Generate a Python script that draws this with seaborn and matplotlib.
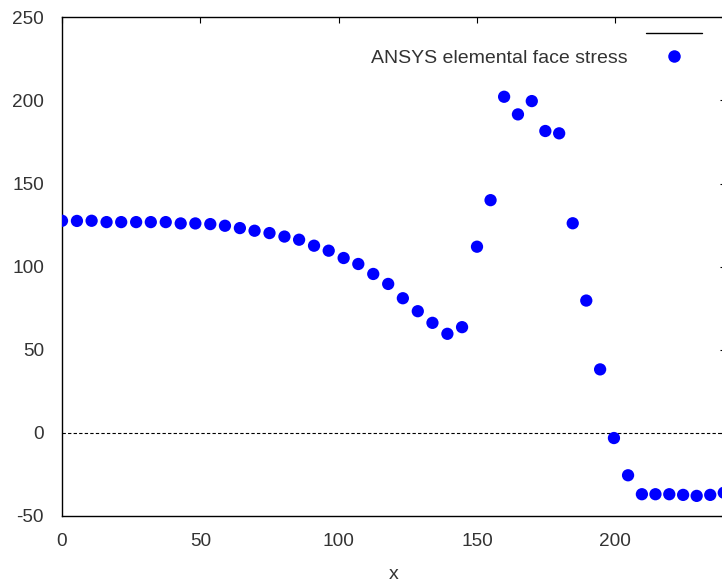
import numpy as np
import pandas as pd
import matplotlib
matplotlib.use("Agg")
import matplotlib.pyplot as plt
import seaborn as sns
from matplotlib.lines import Line2D

# ---- data ----
x_pos = [0.0, 5.4, 10.7, 16.1, 21.4, 26.8, 32.1, 37.5, 42.9, 48.2,
         53.6, 58.9, 64.3, 69.6, 75.0, 80.4, 85.7, 91.1, 96.4, 101.8,
         107.1, 112.5, 117.9, 123.2, 128.6, 133.9, 139.3, 144.6, 150.0,
         154.9, 159.8, 164.8, 169.8, 174.7, 179.7, 184.6, 189.5, 194.5,
         199.5, 204.6, 209.6, 214.5, 219.5, 224.5, 229.4, 234.3, 239.2]
stress = [127.6, 127.5, 127.6, 126.8, 126.8, 126.8, 126.8, 126.8, 126.0, 126.0,
          125.6, 124.6, 123.2, 121.6, 120.2, 118.1, 116.2, 112.6, 109.6, 105.2,
          101.6, 95.6, 89.6, 81.0, 73.2, 66.2, 59.6, 63.6, 112.0,
          140.0, 202.2, 191.6, 199.6, 181.6, 180.2, 126.1, 79.6, 38.2,
          -3.1, -25.5, -36.9, -36.9, -36.9, -37.3, -37.9, -37.3, -36.0]
x_ticks = [0, 50, 100, 150, 200]
y_ticks = [-50, 0, 50, 100, 150, 200, 250]
series_label = "ANSYS elemental face stress"
x_label = "x"

df = pd.DataFrame({"x": x_pos, "stress": stress})

sns.set_style("white")
plt.rcParams["font.family"] = ["Liberation Sans", "DejaVu Sans"]
plt.rcParams["axes.unicode_minus"] = False

W, H = 722, 587
fig = plt.figure(figsize=(W / 100, H / 100), dpi=100)
left, right, top, bottom = 62, 726, 17.3, 516
ax = fig.add_axes([left / W, 1 - bottom / H, (right - left) / W, (bottom - top) / H])

ax.axhline(0, color="black", lw=0.8, ls=(0, (3, 2)), zorder=1)
sns.scatterplot(data=df, x="x", y="stress", ax=ax, color="#0000ff",
                s=78, marker="o", edgecolor="none", zorder=3, legend=False,
                clip_on=True)

ax.set_xlim(0, 240)
ax.set_ylim(-50, 250)
ax.set_xticks(x_ticks)
ax.set_yticks(y_ticks)
ax.set_xlabel(x_label, fontsize=14, color="#333333", labelpad=11)
ax.set_ylabel("")

for s in ax.spines.values():
    s.set_color("black")
    s.set_linewidth(1.0)
    s.set_visible(True)

ax.tick_params(axis="both", which="both", direction="in", length=4.3, width=0.8,
               color="black", top=True, right=True, labelsize=13.7,
               labelcolor="#333333")
ax.tick_params(axis="y", pad=13)
ax.tick_params(axis="x", pad=12.5)

handles = [Line2D([], [], color="black", lw=1.0),
           Line2D([], [], color="#0000ff", marker="o", ls="none", markersize=9,
                  markeredgewidth=0)]
labels = ["", series_label]
leg = ax.legend(handles, labels, loc="upper right", frameon=False,
                markerfirst=False, fontsize=14, handlelength=2.89,
                handletextpad=0.93, labelspacing=0.3, borderpad=0,
                borderaxespad=0,
                bbox_to_anchor=(702 / W, 1 - 26 / H), bbox_transform=fig.transFigure)
for t in leg.get_texts():
    t.set_color("#333333")

fig.savefig("out.png", dpi=100)
